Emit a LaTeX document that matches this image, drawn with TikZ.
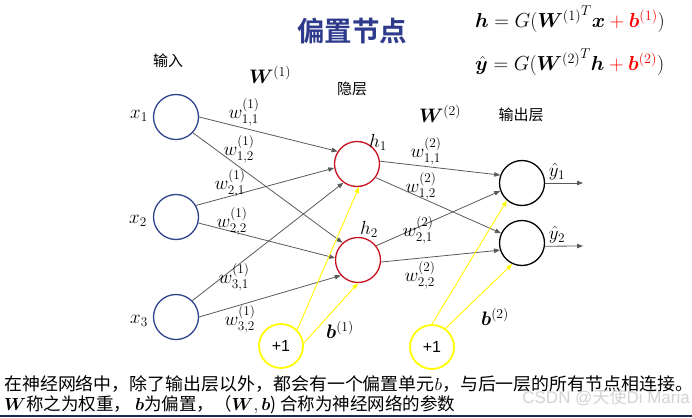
\RequirePackage{fix-cm}
\documentclass[tikz,border=0pt]{standalone}
\usepackage{amsmath,bm}
\usepackage{fontspec}
\newfontfamily\cjk[BoldFont={Noto Sans CJK SC Bold}]{Noto Sans CJK SC}
\newfontfamily\arialf{Liberation Sans}
\usetikzlibrary{arrows.meta}
\definecolor{titleblue}{RGB}{46,58,140}
\definecolor{inblue}{RGB}{44,68,140}
\definecolor{hidred}{RGB}{200,16,30}
\definecolor{arrgray}{RGB}{90,90,90}
\definecolor{biasyellow}{RGB}{255,255,0}
\definecolor{wmgray}{RGB}{200,200,200}
\definecolor{navybar}{RGB}{30,40,80}
\begin{document}
\begin{tikzpicture}[x=1pt,y=-1pt,
  neuron/.style={circle,line width=1.3pt,minimum size=45pt,inner sep=0pt},
  inp/.style={neuron,draw=inblue},
  hid/.style={neuron,draw=hidred},
  outn/.style={neuron,draw=black},
  biasn/.style={neuron,draw=biasyellow,line width=1.8pt,minimum size=44pt,font=\arialf\fontsize{16}{18}\selectfont},
  conn/.style={draw=arrgray,line width=0.8pt,-{Triangle[length=6pt,width=4.5pt]}},
  yconn/.style={draw=biasyellow,line width=0.9pt,-{Triangle[length=6pt,width=4.5pt]}},
  wl/.style={font=\fontsize{19}{22}\selectfont,inner sep=0pt},
  cn/.style={font=\cjk\fontsize{15}{18}\selectfont,inner sep=0pt},
  ml/.style={font=\fontsize{19.5}{22}\selectfont,inner sep=0pt}
]
\useasboundingbox (0,0) rectangle (692,417);
\fill[navybar] (0,414.5) rectangle (692,417);

% title and formulas
\node[font=\cjk\bfseries\fontsize{27.5}{30}\selectfont,text=titleblue,inner sep=0pt] (title) at (352,31) {偏置节点};
\node[font=\fontsize{20.3}{24}\selectfont,inner sep=0pt,anchor=west] (f1) at (475,19)
  {$\bm{h} = G({\bm{W}^{(1)}}^{T}\bm{x} \textcolor{red}{{}+ \bm{b}^{(1)}})$};
\node[font=\fontsize{20.3}{24}\selectfont,inner sep=0pt,anchor=west] (f2) at (475,62)
  {$\hat{\bm{y}} = G({\bm{W}^{(2)}}^{T}\bm{h} \textcolor{red}{{}+ \bm{b}^{(2)}})$};

% layer labels
\node[cn] (lin) at (168,61) {输入};
\node[cn] (lhid) at (352,89) {隐层};
\node[cn] (lout) at (521,115) {输出层};
\node[ml] (W1) at (270,75) {$\bm{W}^{(1)}$};
\node[ml] (W2) at (440,114) {$\bm{W}^{(2)}$};

% neurons
\node[inp] (x1) at (176,117) {};
\node[inp] (x2) at (176,217) {};
\node[inp] (x3) at (176,317) {};
\node[hid] (h1) at (357,164) {};
\node[hid] (h2) at (358,260) {};
\node[outn] (y1) at (522,183) {};
\node[outn] (y2) at (522,243) {};
\node[biasn] (b1) at (281,346) {+1};
\node[biasn] (b2) at (432,347) {+1};

% neuron labels
\node[wl] (lx1) at (139,116) {$x_1$};
\node[wl] (lx2) at (138,221) {$x_2$};
\node[wl] (lx3) at (139,321) {$x_3$};
\node[wl] (lh1) at (378,142) {$h_1$};
\node[wl] (lh2) at (369,229) {$h_2$};
\node[wl] (ly1) at (557,172) {$\hat{y}_1$};
\node[wl] (ly2) at (557,235) {$\hat{y}_2$};
\node[ml] (lb1) at (340,330) {$\bm{b}^{(1)}$};
\node[ml] (lb2) at (495,317) {$\bm{b}^{(2)}$};

% gray connections
\draw[conn] (x1.0) -- (h1.147);
\draw[conn] (x1.-43) -- (h2.132);
\draw[conn] (x2.30) -- (h1.190);
\draw[conn] (x2.-15) -- (h2.175);
\draw[conn] (x3.45) -- (h1.234);
\draw[conn] (x3.0) -- (h2.222);
\draw[conn] (h1.7) -- (y1.160);
\draw[conn] (h1.-36) -- (y2.155);
\draw[conn] (h2.38) -- (y1.200);
\draw[conn] (h2.-5) -- (y2.198);
\coordinate (o1) at (583,183);
\coordinate (o2) at (583,246);
\draw[conn] (y1.0) -- (o1);
\draw[conn] (y2.-8) -- (o2);

% bias connections
\draw[yconn] (b1.45) -- (h1.-85);
\draw[yconn] (b1.7) -- (h2.-90);
\draw[yconn] (b2.90) -- (y1.229);
\draw[yconn] (b2.54) -- (y2.245);

% weight labels
\node[wl] (w111) at (244,112) {$w^{(1)}_{1,1}$};
\node[wl] (w112) at (239,149) {$w^{(1)}_{1,2}$};
\node[wl] (w121) at (230,183) {$w^{(1)}_{2,1}$};
\node[wl] (w122) at (232,221) {$w^{(1)}_{2,2}$};
\node[wl] (w131) at (234,277) {$w^{(1)}_{3,1}$};
\node[wl] (w132) at (240,319) {$w^{(1)}_{3,2}$};
\node[wl] (w211) at (426,151) {$w^{(2)}_{1,1}$};
\node[wl] (w212) at (421,186) {$w^{(2)}_{1,2}$};
\node[wl] (w221) at (418,230) {$w^{(2)}_{2,1}$};
\node[wl] (w222) at (420,275) {$w^{(2)}_{2,2}$};

% bottom text
\node[font=\cjk\fontsize{17.5}{20}\selectfont,inner sep=0pt,anchor=west] (t1) at (4,384)
  {\scalebox{1.025}[1]{在神经网络中，除了输出层以外，都会有一个偏置单元$b$，与后一层的所有节点相连接。}};
\node[font=\cjk\fontsize{17.5}{20}\selectfont,inner sep=0pt,anchor=west] (t2) at (4,405)
  {$\bm{W}$称之为权重， $\bm{b}$为偏置，（$\bm{W},\bm{b}$) 合称为神经网络的参数};
\node[font=\arialf\fontsize{17}{20}\selectfont,text=wmgray,text opacity=0.8,inner sep=0pt,anchor=east] (wm) at (690,398)
  {CSDN @{\cjk 天使}Di Maria};
\end{tikzpicture}
\end{document}
